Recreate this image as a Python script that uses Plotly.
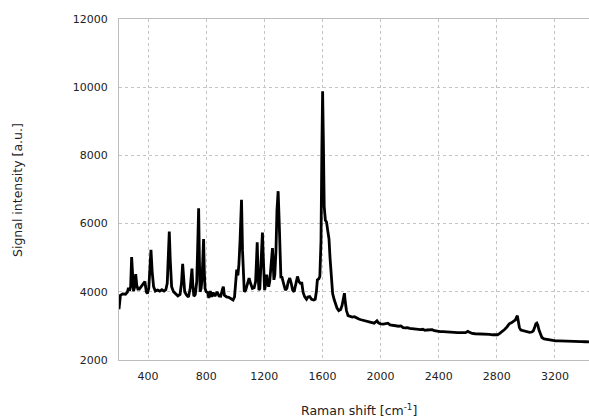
import plotly.graph_objects as go

raman_shift = [200,210,225,245,258,265,272,280,287,294,300,308,315,322,330,340,352,365,378,388,395,405,414,420,428,438,450,465,480,495,510,522,532,540,546,553,562,575,590,605,620,630,638,645,652,665,678,690,696,702,708,715,725,735,742,748,753,758,765,772,778,782,787,792,800,810,818,828,838,848,860,875,888,900,912,918,925,940,955,970,985,995,1003,1010,1018,1025,1033,1043,1050,1056,1062,1072,1082,1095,1105,1118,1130,1140,1145,1151,1157,1163,1169,1176,1182,1187,1192,1197,1202,1208,1216,1223,1230,1237,1245,1251,1256,1261,1266,1272,1280,1287,1295,1302,1308,1314,1320,1327,1335,1345,1355,1365,1375,1385,1395,1405,1415,1428,1438,1448,1458,1467,1478,1490,1500,1512,1525,1540,1550,1558,1565,1575,1582,1590,1596,1601,1606,1612,1620,1628,1636,1645,1652,1660,1670,1680,1690,1700,1712,1725,1735,1745,1751,1757,1765,1776,1790,1805,1820,1835,1850,1865,1880,1895,1910,1925,1940,1955,1967,1975,1985,2000,2020,2040,2050,2065,2080,2095,2110,2125,2140,2155,2170,2185,2200,2215,2230,2245,2260,2275,2290,2305,2320,2340,2355,2370,2390,2410,2430,2450,2470,2490,2510,2530,2550,2570,2585,2600,2615,2630,2650,2670,2690,2710,2730,2750,2770,2790,2805,2820,2840,2855,2870,2885,2900,2915,2928,2935,2941,2947,2955,2965,2980,2995,3010,3025,3040,3050,3060,3068,3075,3082,3090,3100,3110,3125,3145,3165,3185,3205,3230,3260,3290,3320,3350,3380,3410,3434]

intensity = [3490,3900,3940,3930,3990,4120,4030,4150,5020,4150,4020,4150,4520,4200,4080,4080,4150,4220,4300,4000,3950,4100,4650,5230,4600,4150,4020,4050,4020,4060,4020,4060,4250,5000,5770,4900,4150,4000,3950,3880,3920,4250,4820,4300,4000,3900,3850,4100,4500,4680,4200,3870,3920,4300,5400,6450,5000,4000,4100,4400,5100,5550,4600,4100,4000,3980,3820,4020,3850,3980,3870,4000,3880,3870,4080,4150,3900,3850,3840,3800,3760,3850,4300,4650,4480,4800,5500,6700,5200,4200,4000,4050,4200,4400,4250,4100,4120,4300,4800,5450,4500,4050,4100,4700,5500,5740,5100,4200,4050,4200,4500,4250,4150,4300,4700,5150,5280,4800,4350,4500,5200,6400,6950,6100,4900,4400,4450,4300,4200,4050,4100,4300,4400,4250,4050,4000,4200,4450,4300,4250,4250,3980,3850,3780,3850,3860,3780,3760,3780,4000,4350,4380,4450,5500,8200,9880,8500,6500,6100,6050,5800,5550,5000,4400,3950,3780,3650,3520,3450,3480,3600,3850,3960,3700,3450,3300,3270,3260,3270,3230,3200,3180,3160,3150,3130,3120,3090,3080,3120,3150,3090,3060,3050,3060,3080,3030,3020,3010,2980,2990,3000,2950,2940,2950,2930,2920,2920,2900,2910,2890,2900,2870,2880,2880,2890,2860,2840,2830,2830,2820,2810,2810,2810,2800,2800,2790,2800,2840,2810,2780,2770,2770,2760,2760,2750,2750,2740,2735,2740,2780,2840,2900,2970,3060,3090,3130,3180,3250,3300,3150,2950,2880,2860,2840,2820,2810,2820,2850,2950,3060,3080,3020,2880,2740,2660,2620,2600,2590,2570,2560,2560,2560,2550,2550,2545,2540,2535,2530]

x_ticks = [400, 800, 1200, 1600, 2000, 2400, 2800, 3200]
y_ticks = [2000, 4000, 6000, 8000, 10000, 12000]

font_family = "DejaVu Sans"

fig = go.Figure()
fig.add_trace(go.Scatter(
    x=raman_shift, y=intensity, mode="lines",
    line=dict(color="black", width=2.8), showlegend=False,
))

fig.update_layout(
    width=589, height=419,
    margin=dict(l=119, r=0, t=19, b=59, autoexpand=False),
    paper_bgcolor="white", plot_bgcolor="white",
    font=dict(family=font_family, size=11, color="#222"),
)
fig.update_xaxes(
    range=[200, 3434], tickmode="array", tickvals=x_ticks,
    ticktext=[str(v) for v in x_ticks],
    showgrid=True, gridcolor="#c4c4c4", griddash="dot", gridwidth=1,
    showline=True, linecolor="#bdbdbd", linewidth=1, mirror=True,
    ticks="", zeroline=False, ticklabelstandoff=6, automargin=False,
    tickfont=dict(family=font_family, size=11, color="#222"),
)
fig.update_yaxes(
    range=[2000, 12000], tickmode="array", tickvals=y_ticks,
    ticktext=[str(v) for v in y_ticks],
    showgrid=True, gridcolor="#c4c4c4", griddash="dot", gridwidth=1,
    showline=True, linecolor="#bdbdbd", linewidth=1,
    ticks="", zeroline=False, ticklabelstandoff=8, automargin=False,
    tickfont=dict(family=font_family, size=11, color="#222"),
)

fig.add_annotation(
    text="Raman shift [cm<sup>-1</sup>]", xref="paper", yref="paper",
    x=0.5106, y=-0.1466, showarrow=False, xanchor="center", yanchor="middle",
    font=dict(family=font_family, size=12.5, color="#222"),
)
fig.add_annotation(
    text="Signal intensity [a.u.]", xref="paper", yref="paper",
    x=-0.217, y=0.4985, showarrow=False, xanchor="center", yanchor="middle",
    textangle=-90, font=dict(family=font_family, size=12.5, color="#222"),
)

fig.write_html(
    "out.html",
    config={"displayModeBar": False},
    post_script="document.body.style.margin='0';document.body.style.overflow='hidden';",
)
